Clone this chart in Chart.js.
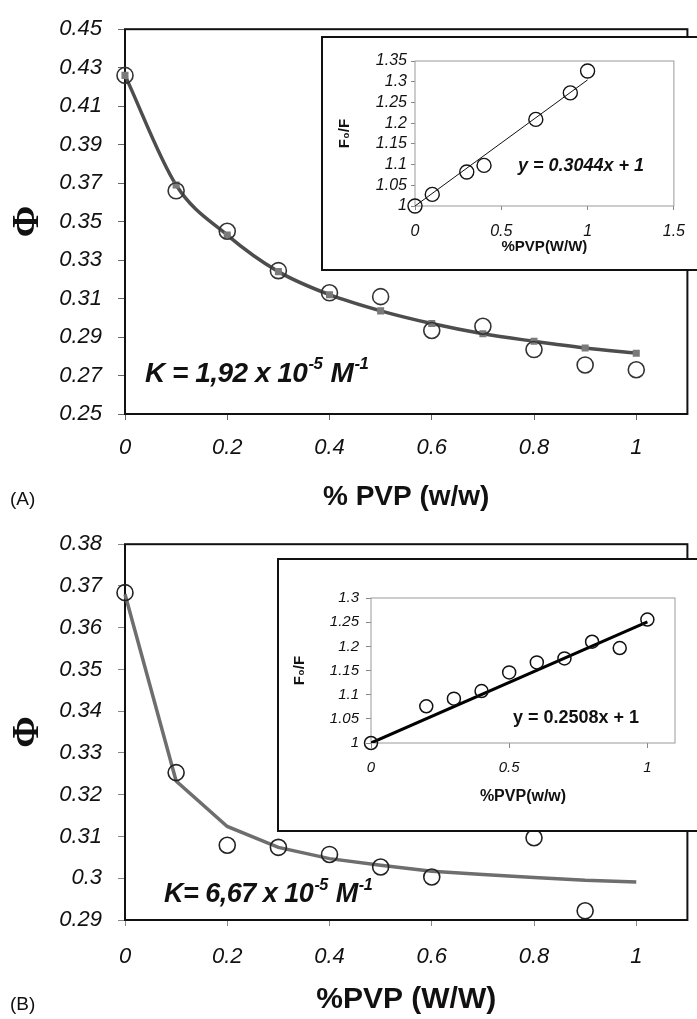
<!DOCTYPE html>
<html>
<head>
<meta charset="utf-8">
<script src="https://cdn.jsdelivr.net/npm/chart.js@4.4.1/dist/chart.umd.min.js"></script>
<style>
  body { margin: 0; width: 697px; height: 1019px; overflow: hidden; background: #fff; position: relative;
         font-family: 'Liberation Sans', Arial, sans-serif; }
  canvas { position: absolute; }
  .box { position: absolute; border: 2px solid #111; background: #fff; }
  .txt { position: absolute; white-space: nowrap; line-height: 1; color: #111; z-index: 5; }
  .txt sup { font-size: 0.6em; vertical-align: 0; position: relative; top: -0.75em; line-height: 0; margin: 0 1px; }
</style>
</head>
<body>
<canvas id="mainA" width="697" height="515" style="left:0;top:0"></canvas>
<canvas id="mainB" width="697" height="504" style="left:0;top:515px"></canvas>
<div class="box" style="left:321px;top:36px;width:420px;height:231px">
  <canvas id="insetA" width="374" height="231" style="left:0;top:0"></canvas>
</div>
<div class="box" style="left:277px;top:558px;width:460px;height:270px">
  <canvas id="insetB" width="418" height="270" style="left:0;top:0"></canvas>
</div>

<div class="txt" style="left:10px;top:489px;font-size:19px">(A)</div>
<div class="txt" style="left:10px;top:994px;font-size:19px">(B)</div>
<div class="txt" style="left:145px;top:359px;font-size:28px;font-weight:bold;font-style:italic;letter-spacing:-0.5px">K = 1,92 x 10<sup>-5</sup> M<sup>-1</sup></div>
<div class="txt" style="left:164px;top:880px;font-size:27px;font-weight:bold;font-style:italic;letter-spacing:-0.5px">K= 6,67 x 10<sup>-5</sup> M<sup>-1</sup></div>
<div class="txt" style="left:518px;top:156px;font-size:18px;font-weight:bold;font-style:italic">y = 0.3044x + 1</div>
<div class="txt" style="left:513px;top:708px;font-size:18px;font-weight:bold">y = 0.2508x + 1</div>

<script>
// ---- data ----
const pvp = [0, 0.1, 0.2, 0.3, 0.4, 0.5, 0.6, 0.7, 0.8, 0.9, 1];

// panel A: quantum yield vs %PVP
const phiA = [0.426, 0.366, 0.345, 0.3245, 0.313, 0.311, 0.2934, 0.2956, 0.2835, 0.2755, 0.273];
const fitA = [0.426, 0.369, 0.343, 0.324, 0.312, 0.3036, 0.297, 0.2917, 0.2878, 0.2843, 0.2816];
const yTicksA = [0.25, 0.27, 0.29, 0.31, 0.33, 0.35, 0.37, 0.39, 0.41, 0.43, 0.45];

// panel B
const phiB = [0.3684, 0.3253, 0.3079, 0.3074, 0.3057, 0.3027, 0.3003, null, 0.3097, 0.2922, null];
const fitB = [0.368, 0.3233, 0.3124, 0.3074, 0.3047, 0.3031, 0.3017, 0.3009, 0.3002, 0.2995, 0.2991];
const yTicksB = [0.29, 0.3, 0.31, 0.32, 0.33, 0.34, 0.35, 0.36, 0.37, 0.38];

const xTicksMain = [0, 0.2, 0.4, 0.6, 0.8, 1];

// inset A: Stern-Volmer
const insetAx = [0, 0.1, 0.3, 0.4, 0.7, 0.9, 1];
const insetAy = [1, 1.028, 1.082, 1.098, 1.209, 1.273, 1.326];
const trendAx = [0, 1];
const trendAy = [1, 1.3044];
const insetAyTicks = [1, 1.05, 1.1, 1.15, 1.2, 1.25, 1.3, 1.35];
const insetAxTicks = [0, 0.5, 1, 1.5];

// inset B
const insetBx = [0, 0.2, 0.3, 0.4, 0.5, 0.6, 0.7, 0.8, 0.9, 1];
const insetBy = [1, 1.076, 1.0917, 1.1075, 1.146, 1.1667, 1.175, 1.2096, 1.1965, 1.2554];
const trendBx = [0, 1];
const trendBy = [1, 1.2508];
const insetByTicks = [1, 1.05, 1.1, 1.15, 1.2, 1.25, 1.3];
const insetBxTicks = [0, 0.5, 1];

const FONT = "'Liberation Sans', Arial, sans-serif";
const pts = (xs, ys) => xs.map((x, i) => ({ x: x, y: ys[i] }));

// draws the plot-area border
const framePlugin = {
    id: 'frame',
    beforeDatasetsDraw(chart, args, opts) {
        const { ctx, chartArea: a } = chart;
        ctx.save();
        ctx.strokeStyle = opts.color;
        ctx.lineWidth = opts.width;
        ctx.strokeRect(a.left, a.top, a.right - a.left, a.bottom - a.top);
        ctx.restore();
    }
};

function axis(o) {
    return {
        type: 'linear',
        min: o.min, max: o.max,
        afterBuildTicks: s => { s.ticks = o.ticks.map(v => ({ value: v })); },
        afterFit: s => { if (o.width) s.width = o.width; if (o.height) s.height = o.height; },
        border: { display: false },
        grid: { drawOnChartArea: false, drawTicks: true, tickLength: o.tl, color: o.tickColor, tickColor: o.tickColor },
        ticks: {
            autoSkip: false, maxRotation: 0,
            padding: o.pad, color: '#111',
            font: { family: FONT, size: o.size, style: 'italic' },
            callback: v => String(v)
        },
        title: {
            display: true, text: o.title, color: '#111',
            font: { family: o.titleFamily || FONT, size: o.titleSize, weight: 'bold' },
            padding: o.titlePad
        }
    };
}

function makeChart(id, datasets, xOpt, yOpt, padding, frame) {
    return new Chart(document.getElementById(id), {
        type: 'scatter',
        data: { datasets: datasets },
        options: {
            responsive: false,
            animation: false,
            layout: { padding: padding },
            plugins: { legend: { display: false }, tooltip: { enabled: false }, frame: frame },
            scales: { x: axis(xOpt), y: axis(yOpt) }
        },
        plugins: [framePlugin]
    });
}

// ---- panel A ----
makeChart('mainA', [
    { data: pts(pvp, phiA), pointStyle: 'circle', pointRadius: 8, pointBorderWidth: 1.6,
      pointBorderColor: '#333', pointBackgroundColor: 'rgba(0,0,0,0)', showLine: false, clip: false },
    { data: pts(pvp, fitA), showLine: true, borderColor: '#4d4d4d', borderWidth: 3.5,
      cubicInterpolationMode: 'monotone', pointStyle: 'rect', pointRadius: 2.5,
      pointBackgroundColor: '#7a7a7a', pointBorderColor: '#7a7a7a', clip: false }
], { min: 0, max: 1.1, ticks: xTicksMain, height: 101, tl: 6, pad: 15, size: 22, tickColor: '#666',
     title: '% PVP (w/w)', titleSize: 28, titlePad: { top: 0, bottom: 1 } },
   { min: 0.25, max: 0.45, ticks: yTicksA, width: 125, tl: 7, pad: 16, size: 22, tickColor: '#666',
     title: 'Φ', titleSize: 38, titleFamily: "'Liberation Serif', 'DejaVu Serif', serif", titlePad: { top: 5, bottom: 0 } },
   { top: 23, right: 8, left: 0, bottom: 0 }, { color: '#111', width: 2 });

// ---- panel B ----
makeChart('mainB', [
    { data: pts(pvp, phiB), pointStyle: 'circle', pointRadius: 8, pointBorderWidth: 1.6,
      pointBorderColor: '#222', pointBackgroundColor: 'rgba(0,0,0,0)', showLine: false, clip: false },
    { data: pts(pvp, fitB), showLine: true, borderColor: '#6e6e6e', borderWidth: 3.5,
      pointRadius: 0, clip: false }
], { min: 0, max: 1.1, ticks: xTicksMain, height: 99, tl: 6, pad: 18, size: 22, tickColor: '#888',
     title: '%PVP (W/W)', titleSize: 30, titlePad: { top: 0, bottom: 1 } },
   { min: 0.29, max: 0.38, ticks: yTicksB, width: 125, tl: 7, pad: 16, size: 22, tickColor: '#888',
     title: 'Φ', titleSize: 38, titleFamily: "'Liberation Serif', 'DejaVu Serif', serif", titlePad: { top: 5, bottom: 0 } },
   { top: 27, right: 0, left: 0, bottom: 0 }, { color: '#111', width: 2 });

// ---- inset A ----
makeChart('insetA', [
    { data: pts(insetAx, insetAy), pointStyle: 'circle', pointRadius: 7, pointBorderWidth: 1.4,
      pointBorderColor: '#111', pointBackgroundColor: 'rgba(0,0,0,0)', showLine: false, clip: false },
    { data: pts(trendAx, trendAy), showLine: true, borderColor: '#111', borderWidth: 1, pointRadius: 0 }
], { min: 0, max: 1.5, ticks: insetAxTicks, height: 63, tl: 4, pad: 12, size: 16, tickColor: '#888',
     title: '%PVP(W/W)', titleSize: 15, titlePad: { top: 0, bottom: 13 } },
   { min: 1, max: 1.35, ticks: insetAyTicks, width: 92, tl: 4, pad: 4, size: 16, tickColor: '#888',
     title: 'F₀/F', titleSize: 15, titlePad: { top: 13, bottom: 0 } },
   { top: 23, right: 15, left: 0, bottom: 0 }, { color: '#999', width: 1 });

// ---- inset B ----
makeChart('insetB', [
    { data: pts(insetBx, insetBy), pointStyle: 'circle', pointRadius: 6.5, pointBorderWidth: 1.5,
      pointBorderColor: '#111', pointBackgroundColor: 'rgba(0,0,0,0)', showLine: false, clip: false },
    { data: pts(trendBx, trendBy), showLine: true, borderColor: '#000', borderWidth: 3, pointRadius: 0 }
], { min: 0, max: 1.1, ticks: insetBxTicks, height: 87, tl: 5, pad: 11, size: 15, tickColor: '#888',
     title: '%PVP(w/w)', titleSize: 16, titlePad: { top: 0, bottom: 24 } },
   { min: 1, max: 1.3, ticks: insetByTicks, width: 92, tl: 5, pad: 7, size: 15, tickColor: '#888',
     title: 'F₀/F', titleSize: 15, titlePad: { top: 12, bottom: 0 } },
   { top: 38, right: 22, left: 0, bottom: 0 }, { color: '#999', width: 1 });
</script>
</body>
</html>
